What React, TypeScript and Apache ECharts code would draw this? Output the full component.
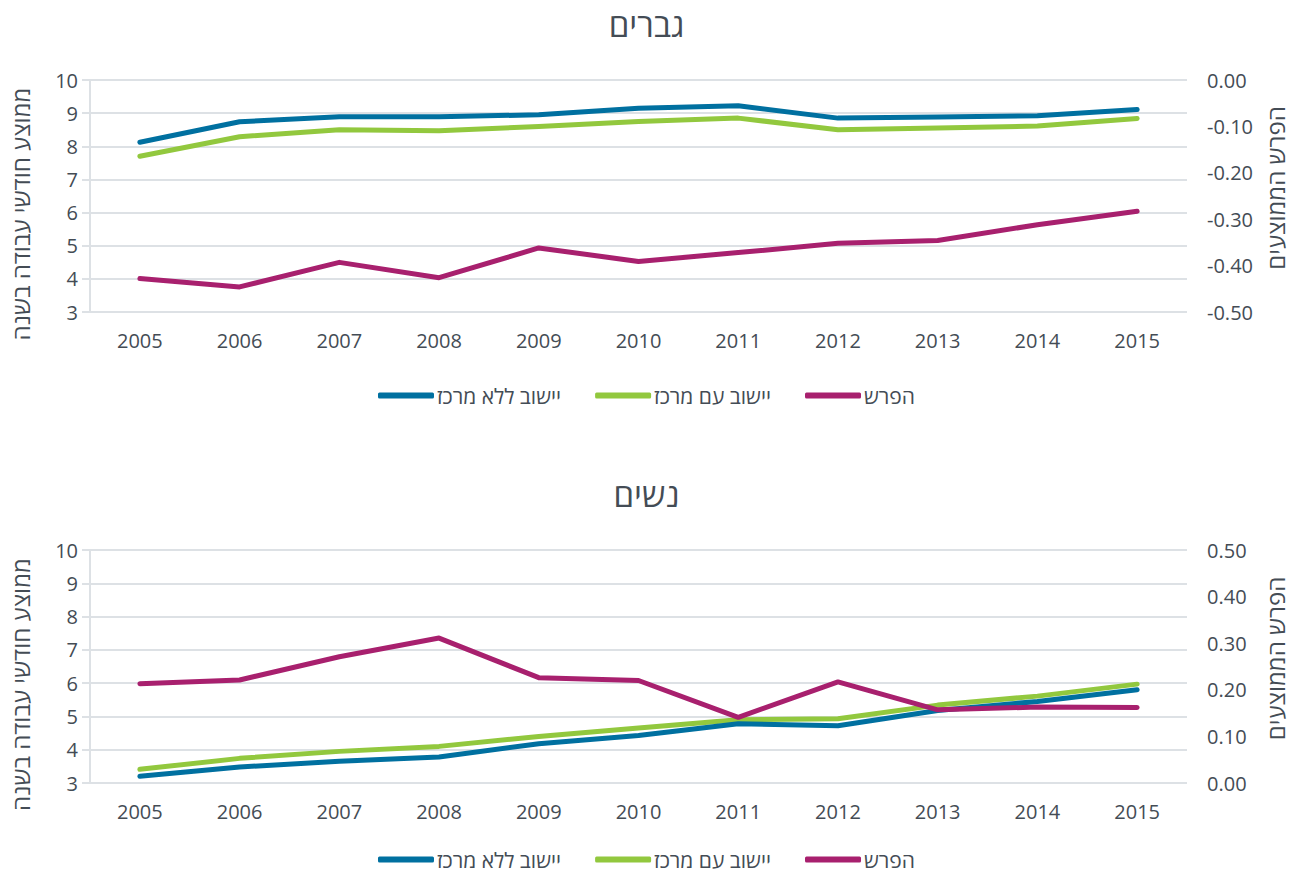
import React, { useEffect, useRef } from "react";
import * as echarts from "echarts";

const years = ["2005", "2006", "2007", "2008", "2009", "2010", "2011", "2012", "2013", "2014", "2015"];

// Men (גברים)
const menNoCenter = [8.12, 8.74, 8.89, 8.89, 8.95, 9.15, 9.22, 8.85, 8.88, 8.92, 9.11];
const menWithCenter = [7.7, 8.29, 8.5, 8.47, 8.6, 8.75, 8.85, 8.5, 8.55, 8.61, 8.84];
const menDiff = [-0.428, -0.446, -0.393, -0.426, -0.362, -0.391, -0.372, -0.352, -0.346, -0.312, -0.283];

// Women (נשים)
const womenNoCenter = [3.2, 3.48, 3.65, 3.78, 4.18, 4.43, 4.78, 4.72, 5.18, 5.45, 5.8];
const womenWithCenter = [3.41, 3.74, 3.95, 4.1, 4.4, 4.65, 4.9, 4.93, 5.34, 5.61, 5.97];
const womenDiff = [0.213, 0.221, 0.271, 0.311, 0.226, 0.22, 0.141, 0.217, 0.157, 0.163, 0.162];

const titles = ["גברים", "נשים"];
const seriesNames = ["יישוב ללא מרכז", "יישוב עם מרכז", "הפרש"];
const leftAxisName = "ממוצע חודשי עבודה בשנה";
const rightAxisName = "הפרש הממוצעים";

const colors = ["#0070a0", "#92c83e", "#a8206e"];
const textColor = "#444c55";
const gridColor = "#dde1e5";
const font = "'Open Sans', 'DejaVu Sans', sans-serif";

export default function App() {
  const ref = useRef<HTMLDivElement>(null);

  useEffect(() => {
    document.documentElement.style.overflow = "hidden";
    document.body.style.overflow = "hidden";
    document.body.style.margin = "0";
    if (!ref.current) return;
    const chart = echarts.init(ref.current, undefined, { renderer: "svg" });

    const gridTops = [80, 550];
    const gridHeights = [232, 233];
    const titleTops = [3, 473];
    const legendTops = [380, 844];
    const rightRanges = [
      [-0.5, 0],
      [0, 0.5],
    ];
    const data = [
      [menNoCenter, menWithCenter, menDiff],
      [womenNoCenter, womenWithCenter, womenDiff],
    ];

    const grid: any[] = [];
    const xAxis: any[] = [];
    const yAxis: any[] = [];
    const series: any[] = [];
    const title: any[] = [];
    const legend: any[] = [];

    [0, 1].forEach((i) => {
      grid.push({
        left: 90,
        right: 106,
        top: gridTops[i],
        height: gridHeights[i],
        containLabel: false,
        outerBoundsMode: "none",
      });
      title.push({
        text: titles[i],
        left: "center",
        top: titleTops[i],
        textStyle: { fontFamily: font, fontSize: 33, fontWeight: "normal", color: textColor },
      });
      legend.push({
        left: "center",
        top: legendTops[i],
        itemWidth: 56,
        itemHeight: 6,
        itemGap: 34,
        icon: "roundRect",
        data: seriesNames.map((n, k) => ({ name: n, itemStyle: { color: colors[k] } })),
        textStyle: { fontFamily: font, fontSize: 21, color: textColor, padding: [0, 0, 0, -2] },
        selectedMode: false,
      });
      xAxis.push({
        type: "category",
        gridIndex: i,
        data: years,
        boundaryGap: true,
        axisLine: { show: false },
        axisTick: { show: false },
        axisLabel: { fontFamily: font, fontSize: 20, color: textColor, margin: 18 },
        splitLine: { show: false },
      });
      yAxis.push({
        type: "value",
        gridIndex: i,
        position: "left",
        min: 3,
        max: 10,
        interval: 1,
        name: leftAxisName,
        nameLocation: "middle",
        nameGap: 58,
        nameRotate: 90,
        nameTextStyle: { fontFamily: font, fontSize: 24, color: textColor, padding: [0, 36, 0, 0] },
        axisLine: { show: true, lineStyle: { color: gridColor, width: 2 } },
        axisTick: { show: true, length: 8, lineStyle: { color: gridColor, width: 2 } },
        axisLabel: { fontFamily: font, fontSize: 20, color: textColor, margin: 12 },
        splitLine: { show: true, lineStyle: { color: gridColor, width: 2 } },
      });
      yAxis.push({
        type: "value",
        gridIndex: i,
        position: "right",
        min: rightRanges[i][0],
        max: rightRanges[i][1],
        interval: 0.1,
        name: rightAxisName,
        nameLocation: "middle",
        nameGap: 76,
        nameRotate: 90,
        nameTextStyle: { fontFamily: font, fontSize: 24, color: textColor, padding: [0, 0, 0, 16] },
        axisLine: { show: false },
        axisTick: { show: false },
        axisLabel: {
          fontFamily: font,
          fontSize: 20,
          color: textColor,
          margin: 20,
          formatter: (v: number) => v.toFixed(2),
        },
        splitLine: { show: false },
      });
      data[i].forEach((d, k) => {
        series.push({
          type: "line",
          name: seriesNames[k],
          xAxisIndex: i,
          yAxisIndex: i * 2 + (k === 2 ? 1 : 0),
          data: d,
          showSymbol: false,
          symbol: "none",
          lineStyle: { color: colors[k], width: 5, cap: "round", join: "round" },
          itemStyle: { color: colors[k] },
          z: k === 2 ? 3 : 2 + (k === 0 ? 0.5 : 0),
        });
      });
    });

    chart.setOption({
      animation: false,
      backgroundColor: "#ffffff",
      title,
      legend,
      grid,
      xAxis,
      yAxis,
      series,
    });

    return () => chart.dispose();
  }, []);

  return (
    <div
      ref={ref}
      style={{ position: "fixed", left: 0, top: 0, width: 1293, height: 875, background: "#fff" }}
    />
  );
}
